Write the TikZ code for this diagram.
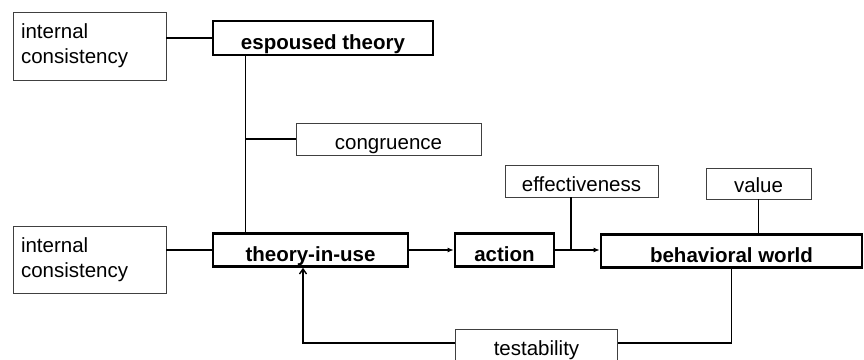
\documentclass[tikz,border=0pt]{standalone}
\usepackage{fontspec}
\setmainfont{Liberation Sans}
\usetikzlibrary{arrows.meta,calc}
\begin{document}
\begin{tikzpicture}[x=1pt,y=-1pt,
  thinbox/.style={draw=black!75,line width=0.9pt,inner sep=0pt,font=\fontsize{20.5}{25}\selectfont},
  thickbox/.style={draw=black,line width=2.6pt,inner sep=0pt,font=\bfseries\fontsize{20.5}{25}\selectfont},
  bl/.style={text height=#1,text depth=0pt},
  conn/.style={draw=black,line width=1.5pt},
  arr/.style={conn,-{Latex[length=6pt,width=5pt]}},
  uparr/.style={conn,-{Straight Barb[length=5pt,width=7pt,line width=1.4pt]}}]
\clip (0,0) rectangle (864,359);
\fill[white] (0,0) rectangle (864,359);
\node[thinbox,minimum width=153pt,minimum height=68pt,text width=137pt,align=left] (ic1) at (89.5,46) {internal\\consistency};
\node[thinbox,minimum width=153pt,minimum height=67pt,text width=137pt,align=left] (ic2) at (89.5,259.5) {internal\\consistency};
\node[thickbox,bl=22pt,minimum width=220pt,minimum height=34pt] (esp) at (323,38) {espoused theory};
\node[thickbox,bl=23pt,minimum width=195pt,minimum height=33pt] (tiu) at (310.5,250) {theory-in-use};
\node[thinbox,bl=21pt,minimum width=185pt,minimum height=32pt] (cong) at (388.5,139) {congruence};
\node[thickbox,bl=23pt,minimum width=99pt,minimum height=33pt] (act) at (504.5,250) {action};
\node[thinbox,bl=21pt,minimum width=153pt,minimum height=32pt] (eff) at (581.5,181) {effectiveness};
\node[thinbox,bl=18pt,minimum width=105pt,minimum height=31pt] (val) at (758.5,183.5) {value};
\node[thickbox,bl=22pt,minimum width=261pt,minimum height=33pt] (bw) at (731.5,251) {behavioral world};
\node[thinbox,bl=20pt,minimum width=162pt,minimum height=32pt] (test) at (536.5,345) {testability};
% connectors
\draw[conn] (esp.west) -- (esp.west -| ic1.east);
\coordinate (j1) at ([xshift=34pt]tiu.north west);
\draw[conn] ([xshift=34pt]esp.south west) -- (j1);
\draw[conn] (cong.west) -- (cong.west -| j1);
\draw[conn] (tiu.west) -- (tiu.west -| ic2.east);
\draw[arr] (tiu.east) -- (act.west);
\draw[arr] (act.east) -- (act.east -| bw.west);
\coordinate (j2) at ($(act.east)!0.35!(act.east -| bw.west)$);
\draw[conn] (j2) -- (j2 |- eff.south);
\draw[conn] (val.south) -- (val.south |- bw.north);
\draw[conn] (bw.south) |- ([yshift=2pt]test.east);
\draw[uparr] ([yshift=2pt]test.west) -| ([xshift=-7.5pt]tiu.south);
\end{tikzpicture}
\end{document}
